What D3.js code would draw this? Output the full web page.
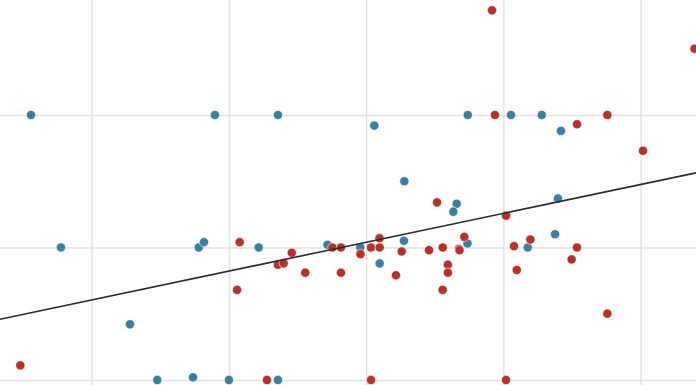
<!DOCTYPE html>
<html>
<head>
<meta charset="utf-8">
<script src="https://cdn.jsdelivr.net/npm/d3@7/dist/d3.min.js"></script>
<style>
  html, body { margin: 0; padding: 0; background: #fff; }
  svg { display: block; }
  .grid line { stroke: #e3e3e3; stroke-width: 1.5; }
  .grid .domain { display: none; }
  .grid text { display: none; }
</style>
</head>
<body>
<svg id="chart" width="696" height="385"></svg>
<script>
// ---- data ----
const xTicks = [10, 20, 30, 40, 50];
const yTicks = [2, 3, 4];

const blueX = [5.58, 18.98, 23.57, 30.59, 32.78, 37.40, 40.55, 42.79, 44.19, 7.76,
               17.80, 18.18, 22.17, 27.18, 12.79, 14.78, 17.38, 20.00, 23.57, 36.59,
               36.35, 43.97, 29.57, 32.75, 30.98, 37.38, 41.77, 43.76];
const blueY = [4.00, 4.00, 4.00, 3.92, 3.50, 4.00, 4.00, 4.00, 3.88, 3.00,
               3.00, 3.04, 3.00, 3.02, 2.42, 2.00, 2.02, 2.00, 2.00, 3.33,
               3.27, 3.37, 3.00, 3.05, 2.88, 3.03, 3.00, 3.10];

const redX = [39.17, 53.92, 39.38, 45.36, 47.57, 50.17, 20.78, 27.54, 28.16, 24.58,
              23.57, 23.99, 25.56, 28.16, 20.59, 4.80, 22.77, 30.35, 40.19, 35.16,
              40.19, 29.58, 30.35, 30.98, 30.97, 32.59, 32.17, 34.58, 35.58, 36.76,
              36.80, 37.15, 35.95, 35.95, 35.57, 40.77, 41.96, 40.97, 45.36, 44.97,
              47.57];
const redY = [4.79, 4.50, 4.00, 3.93, 4.00, 3.73, 3.04, 3.00, 3.00, 2.96,
              2.87, 2.88, 2.81, 2.81, 2.68, 2.11, 2.00, 2.00, 2.00, 3.34,
              3.24, 2.95, 3.00, 3.00, 3.07, 2.97, 2.79, 2.98, 3.00, 2.99,
              2.98, 3.08, 2.87, 2.81, 2.68, 3.01, 3.06, 2.83, 3.00, 2.91,
              2.50];

// trend line: endpoints in data units
const trendX = [3.32, 54.03];
const trendY = [2.458, 3.563];

// ---- chart ----
const W = 696, H = 385;
const svg = d3.select("#chart");

const x = d3.scaleLinear().domain([3.32, 54.03]).range([0, W]);
const y = d3.scaleLinear().domain([1.962, 4.868]).range([H, 0]);

svg.append("g").attr("class", "grid")
  .attr("transform", `translate(0,${H})`)
  .call(d3.axisBottom(x).tickValues(xTicks).tickSize(-H).tickFormat(""));

svg.append("g").attr("class", "grid")
  .call(d3.axisLeft(y).tickValues(yTicks).tickSize(-W).tickFormat(""))
  .attr("transform", `translate(0,0)`)
  .selectAll("line").attr("x1", 0).attr("x2", W);

const blue = blueX.map((v, i) => ({x: v, y: blueY[i]}));
const red = redX.map((v, i) => ({x: v, y: redY[i]}));

function dots(data, color) {
  svg.append("g").selectAll("circle").data(data).join("circle")
    .attr("cx", d => x(d.x))
    .attr("cy", d => y(d.y))
    .attr("r", 4.6)
    .attr("fill", color)
    .attr("stroke", "#fff")
    .attr("stroke-width", 0.6);
}
dots(blue, "#3c7fa0");
dots(red, "#b8302a");

const trend = trendX.map((v, i) => ({x: v, y: trendY[i]}));
svg.append("path")
  .datum(trend)
  .attr("fill", "none")
  .attr("stroke", "#2b2b2b")
  .attr("stroke-width", 1.6)
  .attr("d", d3.line().x(d => x(d.x)).y(d => y(d.y)));
</script>
</body>
</html>
